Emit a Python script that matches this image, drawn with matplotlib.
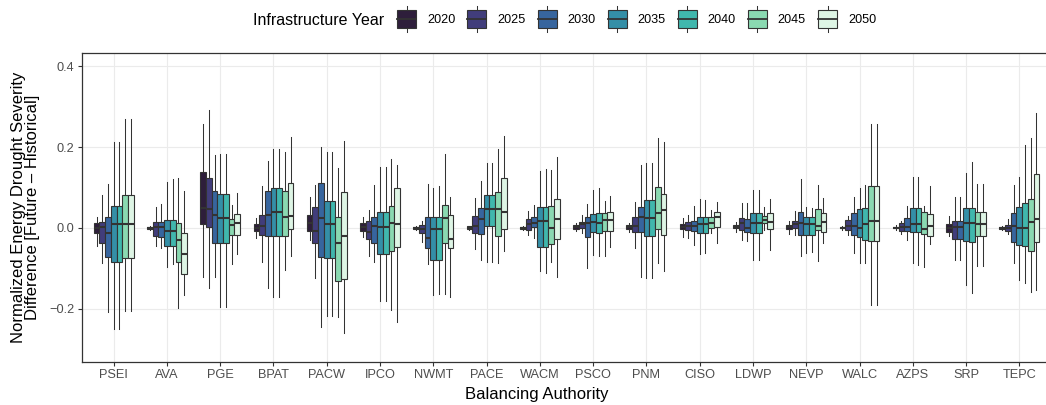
import matplotlib
matplotlib.use("Agg")
import matplotlib.pyplot as plt
from matplotlib.legend_handler import HandlerBase
from matplotlib.patches import Rectangle, Patch
from matplotlib.lines import Line2D

plt.rcParams['font.family'] = ['Liberation Sans', 'DejaVu Sans']

authorities = ["PSEI", "AVA", "PGE", "BPAT", "PACW", "IPCO", "NWMT", "PACE", "WACM",
               "PSCO", "PNM", "CISO", "LDWP", "NEVP", "WALC", "AZPS", "SRP", "TEPC"]
years = ["2020", "2025", "2030", "2035", "2040", "2045", "2050"]
year_colors = ["#2E1E3B", "#413D7B", "#37659E", "#348FA7", "#40B7AD", "#8AD9B1", "#DEF5E5"]

# rows: authorities, columns: years 2020..2050
whisker_low = [
    [-0.044, -0.087, -0.207, -0.250, -0.250, -0.205, -0.205],
    [-0.006, -0.044, -0.050, -0.097, -0.090, -0.198, -0.165],
    [-0.120, -0.148, -0.120, -0.194, -0.194, -0.090, -0.064],
    [-0.025, -0.083, -0.149, -0.171, -0.171, -0.104, -0.068],
    [-0.030, -0.124, -0.244, -0.217, -0.217, -0.220, -0.260],
    [-0.023, -0.069, -0.083, -0.180, -0.180, -0.202, -0.231],
    [-0.004, -0.035, -0.089, -0.165, -0.163, -0.163, -0.171],
    [-0.004, -0.053, -0.079, -0.083, -0.083, -0.087, -0.058],
    [-0.004, -0.017, -0.025, -0.105, -0.112, -0.085, -0.120],
    [-0.008, -0.012, -0.100, -0.067, -0.069, -0.069, -0.046],
    [-0.010, -0.050, -0.120, -0.124, -0.124, -0.087, -0.105],
    [-0.023, -0.025, -0.042, -0.064, -0.062, -0.013, -0.038],
    [-0.010, -0.030, -0.032, -0.079, -0.080, -0.005, -0.054],
    [-0.015, -0.017, -0.069, -0.061, -0.060, -0.081, -0.038],
    [-0.004, -0.017, -0.061, -0.086, -0.087, -0.190, -0.190],
    [-0.006, -0.014, -0.030, -0.087, -0.091, -0.097, -0.040],
    [-0.021, -0.079, -0.079, -0.141, -0.161, -0.095, -0.095],
    [-0.004, -0.015, -0.086, -0.128, -0.137, -0.157, -0.153],
]
q1 = [
    [-0.012, -0.038, -0.071, -0.085, -0.085, -0.075, -0.075],
    [-0.003, -0.021, -0.022, -0.044, -0.044, -0.083, -0.114],
    [0.010, 0.003, -0.038, -0.038, -0.038, -0.017, -0.017],
    [-0.007, -0.017, -0.019, -0.019, -0.019, -0.021, -0.003],
    [-0.007, -0.038, -0.071, -0.073, -0.073, -0.130, -0.127],
    [-0.007, -0.026, -0.036, -0.063, -0.064, -0.058, -0.048],
    [-0.002, -0.013, -0.050, -0.079, -0.080, -0.038, -0.050],
    [-0.002, -0.013, -0.015, 0.005, 0.005, -0.021, -0.003],
    [-0.002, -0.005, 0.002, -0.046, -0.046, -0.040, -0.026],
    [-0.003, -0.001, -0.023, -0.009, -0.012, -0.007, -0.008],
    [-0.002, -0.011, -0.011, -0.021, -0.021, -0.003, -0.017],
    [-0.003, -0.005, -0.007, -0.012, -0.012, -0.001, 0.003],
    [-0.001, -0.005, -0.011, -0.013, -0.013, 0.012, -0.003],
    [-0.003, -0.001, -0.017, -0.017, -0.017, -0.005, -0.009],
    [-0.001, -0.005, -0.017, -0.023, -0.030, -0.032, -0.032],
    [-0.001, -0.007, -0.007, -0.009, -0.009, -0.015, -0.020],
    [-0.009, -0.026, -0.026, -0.032, -0.034, -0.020, -0.020],
    [-0.002, -0.007, -0.034, -0.042, -0.044, -0.056, -0.034],
]
median = [
    [0.001, 0.003, -0.013, 0.010, 0.010, 0.010, 0.010],
    [-0.001, 0.002, 0.002, -0.007, -0.007, -0.030, -0.065],
    [0.049, 0.047, 0.031, 0.025, 0.025, 0.007, 0.012],
    [0.000, 0.005, 0.032, 0.040, 0.040, 0.026, 0.030],
    [0.012, -0.007, 0.025, 0.009, 0.009, -0.036, -0.021],
    [0.002, -0.011, 0.006, 0.002, 0.002, 0.012, 0.010],
    [0.000, -0.003, -0.024, -0.003, -0.003, 0.024, -0.027],
    [0.001, 0.004, 0.021, 0.046, 0.046, 0.046, 0.039],
    [0.000, 0.009, 0.012, 0.018, 0.018, -0.001, 0.021],
    [0.002, 0.009, 0.012, 0.014, 0.013, 0.020, 0.020],
    [0.003, 0.005, 0.028, 0.025, 0.025, 0.038, 0.044],
    [0.003, 0.005, 0.006, 0.009, 0.009, 0.013, 0.026],
    [0.003, 0.012, 0.001, 0.013, 0.013, 0.020, 0.016],
    [0.003, 0.011, 0.012, 0.009, 0.009, 0.004, 0.016],
    [0.000, 0.004, 0.006, -0.001, 0.009, 0.018, 0.018],
    [0.001, 0.002, 0.002, 0.009, 0.009, -0.003, 0.004],
    [0.000, 0.003, 0.003, 0.012, 0.012, 0.009, 0.009],
    [0.000, 0.000, 0.004, -0.001, -0.001, 0.016, 0.022],
]
q3 = [
    [0.013, 0.016, 0.028, 0.054, 0.054, 0.081, 0.081],
    [0.002, 0.014, 0.014, 0.020, 0.020, 0.013, -0.012],
    [0.139, 0.123, 0.091, 0.083, 0.083, 0.021, 0.034],
    [0.009, 0.032, 0.092, 0.100, 0.100, 0.092, 0.110],
    [0.032, 0.053, 0.110, 0.067, 0.067, 0.028, 0.090],
    [0.012, 0.018, 0.028, 0.039, 0.039, 0.054, 0.098],
    [0.003, 0.007, 0.026, 0.028, 0.028, 0.058, 0.032],
    [0.004, 0.030, 0.049, 0.081, 0.081, 0.090, 0.123],
    [0.002, 0.022, 0.026, 0.053, 0.053, 0.054, 0.071],
    [0.007, 0.016, 0.026, 0.035, 0.038, 0.036, 0.040],
    [0.007, 0.028, 0.053, 0.069, 0.069, 0.102, 0.083],
    [0.010, 0.016, 0.018, 0.028, 0.028, 0.026, 0.039],
    [0.008, 0.024, 0.021, 0.036, 0.036, 0.030, 0.036],
    [0.007, 0.018, 0.039, 0.026, 0.026, 0.046, 0.036],
    [0.002, 0.020, 0.036, 0.046, 0.050, 0.104, 0.104],
    [0.003, 0.012, 0.024, 0.049, 0.050, 0.039, 0.034],
    [0.009, 0.018, 0.018, 0.049, 0.049, 0.040, 0.040],
    [0.003, 0.007, 0.036, 0.051, 0.061, 0.071, 0.133],
]
whisker_high = [
    [0.026, 0.081, 0.109, 0.213, 0.213, 0.269, 0.269],
    [0.004, 0.051, 0.059, 0.114, 0.120, 0.123, 0.092],
    [0.258, 0.291, 0.180, 0.183, 0.183, 0.057, 0.086],
    [0.024, 0.104, 0.166, 0.194, 0.194, 0.188, 0.224],
    [0.077, 0.106, 0.200, 0.187, 0.187, 0.149, 0.216],
    [0.026, 0.044, 0.106, 0.151, 0.151, 0.170, 0.156],
    [0.004, 0.018, 0.108, 0.100, 0.103, 0.184, 0.076],
    [0.006, 0.073, 0.116, 0.160, 0.160, 0.194, 0.227],
    [0.004, 0.042, 0.057, 0.141, 0.146, 0.143, 0.175],
    [0.013, 0.031, 0.059, 0.094, 0.098, 0.067, 0.080],
    [0.012, 0.063, 0.156, 0.161, 0.161, 0.223, 0.213],
    [0.024, 0.032, 0.054, 0.071, 0.070, 0.044, 0.063],
    [0.015, 0.061, 0.061, 0.094, 0.094, 0.051, 0.072],
    [0.017, 0.041, 0.120, 0.051, 0.050, 0.106, 0.073],
    [0.004, 0.029, 0.076, 0.100, 0.106, 0.258, 0.256],
    [0.008, 0.017, 0.054, 0.125, 0.127, 0.054, 0.104],
    [0.030, 0.077, 0.077, 0.137, 0.163, 0.109, 0.109],
    [0.004, 0.021, 0.106, 0.125, 0.205, 0.223, 0.285],
]

W, H = 1046, 405
fig = plt.figure(figsize=(W / 100, H / 100), dpi=100)
ax_left, ax_right, ax_top, ax_bottom = 81.7, 1051.3, 52.7, 362.0
ax = fig.add_axes([ax_left / W, 1 - ax_bottom / H, (ax_right - ax_left) / W, (ax_bottom - ax_top) / H])

edge = "#333333"
n_years = len(years)
dodge = 0.75
bw = dodge / n_years
for j, (yr, col) in enumerate(zip(years, year_colors)):
    stats = []
    positions = []
    for i, ba in enumerate(authorities):
        stats.append(dict(med=median[i][j], q1=q1[i][j], q3=q3[i][j],
                          whislo=whisker_low[i][j], whishi=whisker_high[i][j], label=ba))
        positions.append(i + (j - (n_years - 1) / 2) * bw)
    ax.bxp(stats, positions=positions, widths=bw, patch_artist=True, showfliers=False,
           showcaps=False,
           boxprops=dict(facecolor=col, edgecolor=edge, linewidth=0.8),
           medianprops=dict(color=edge, linewidth=1.5, solid_capstyle='butt'),
           whiskerprops=dict(color=edge, linewidth=0.75),
           manage_ticks=False)

ax.set_xlim(-0.6, len(authorities) - 1 + 0.6)
ax.set_ylim(-0.331, 0.433)
ax.set_xticks(range(len(authorities)))
ax.set_xticklabels(authorities)
ax.set_yticks([-0.2, 0.0, 0.2, 0.4])
ax.set_yticklabels(["\u22120.2", "0.0", "0.2", "0.4"])
ax.set_axisbelow(True)
ax.grid(True, color="#EBEBEB", linewidth=0.8)
for s in ax.spines.values():
    s.set_color(edge)
    s.set_linewidth(0.9)
ax.tick_params(axis='both', colors=edge, labelcolor="#4D4D4D", labelsize=9.2,
               length=2.7, width=0.8, pad=2.5)

fig.text(25.5 / W, 1 - 207 / H, "Normalized Energy Drought Severity\nDifference [Future \u2013 Historical]",
         rotation=90, ha='center', va='center', fontsize=12, linespacing=0.98, color='black')
fig.text(537 / W, 1 - 394 / H, "Balancing Authority", ha='center', va='center',
         fontsize=12, color='black')


class BoxKeyHandler(HandlerBase):
    def create_artists(self, legend, orig_handle, xdescent, ydescent, width, height,
                       fontsize, trans):
        cx = -xdescent + width / 2
        cy = -ydescent + height / 2
        bh = 12.6  # points
        wh = 19.4
        line = Line2D([cx, cx], [cy - wh / 2, cy + wh / 2], color=edge, lw=0.75, transform=trans)
        rect = Rectangle((-xdescent, cy - bh / 2), width, bh, facecolor=orig_handle.get_facecolor(),
                         edgecolor=edge, lw=0.8, transform=trans)
        med = Line2D([-xdescent, -xdescent + width], [cy, cy], color=edge, lw=1.3, transform=trans)
        return [line, rect, med]


handles = [Patch(facecolor=c) for c in year_colors]
leg_fs = 9.1
fs_px = leg_fs * 100 / 72
leg = fig.legend(handles, years, handler_map={Patch: BoxKeyHandler()}, loc='center left',
                 bbox_to_anchor=(397 / W, 1 - 20.4 / H), ncol=7, frameon=False,
                 fontsize=leg_fs, borderpad=0, borderaxespad=0,
                 handlelength=19 / fs_px, handletextpad=11 / fs_px, columnspacing=12 / fs_px)
fig.text(253 / W, 1 - 20.5 / H, "Infrastructure Year", ha='left', va='center', fontsize=11.5)

fig.savefig("out.png", dpi=100)
